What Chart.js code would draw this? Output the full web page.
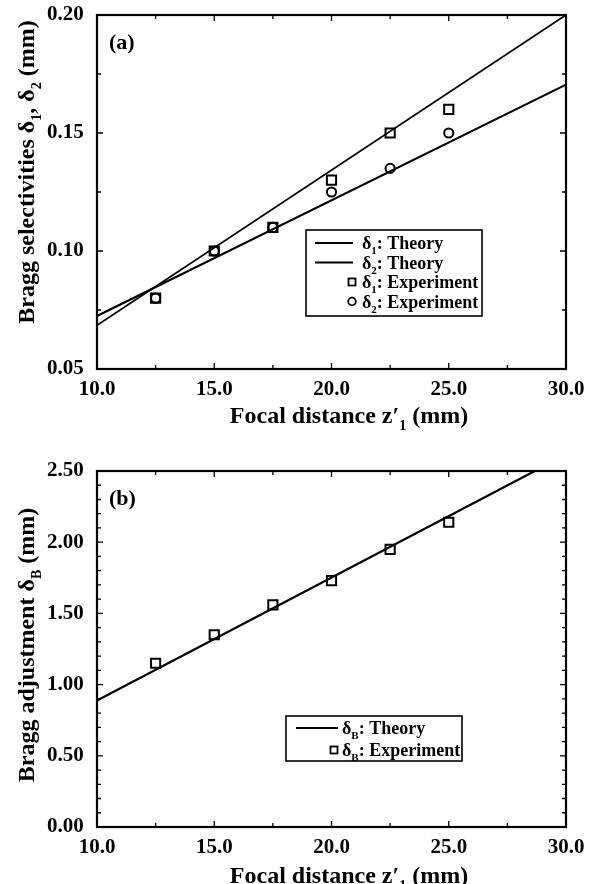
<!DOCTYPE html>
<html>
<head>
<meta charset="utf-8">
<script src="https://cdn.jsdelivr.net/npm/chart.js@4.4.1/dist/chart.umd.min.js"></script>
<style>
html, body { margin: 0; padding: 0; background: #fff; }
canvas { position: absolute; left: 0; }
#chartA { top: 0; }
#chartB { top: 440px; }
</style>
</head>
<body>
<canvas id="chartA" width="597" height="440"></canvas>
<canvas id="chartB" width="597" height="444"></canvas>
<script>
// Focal distance z'1 (mm) of the measured points
const focalDistances = [12.5, 15.0, 17.5, 20.0, 22.5, 25.0];

// (a) Bragg selectivities
const delta1Experiment = [0.080, 0.100, 0.110, 0.130, 0.150, 0.160];
const delta2Experiment = [0.080, 0.100, 0.110, 0.125, 0.135, 0.150];
const theoryFocal = [10.0, 30.0];
const delta1Theory = [0.0685, 0.200];
const delta2Theory = [0.0725, 0.1705];

// (b) Bragg adjustment
const deltaBExperiment = [1.15, 1.35, 1.56, 1.73, 1.95, 2.14];
const deltaBTheoryFocal = [10.0, 28.67];
const deltaBTheory = [0.888, 2.50];

// tick labels
const xTicks = [10.0, 15.0, 20.0, 25.0, 30.0];
const yTicksA = [0.05, 0.10, 0.15, 0.20];
const yTicksB = [0.00, 0.50, 1.00, 1.50, 2.00, 2.50];

const SERIF = "'Liberation Serif', 'Times New Roman', Times, serif";
const WEIGHT = 'bold ';

function points(xs, ys) {
    return xs.map((x, i) => ({ x: x, y: ys[i] }));
}

// draw text made of [text, isSubscript] parts
function setFont(ctx, size, sub) {
    ctx.font = WEIGHT + (sub ? Math.round(size * 0.6) : size) + 'px ' + SERIF;
}

function richWidth(ctx, parts, size) {
    let w = 0;
    parts.forEach(p => {
        setFont(ctx, size, p[1]);
        w += ctx.measureText(p[0]).width;
    });
    return w;
}

function drawRich(ctx, parts, x, y, size, align) {
    const total = richWidth(ctx, parts, size);
    let cx = align === 'center' ? x - total / 2 : x;
    ctx.textAlign = 'left';
    ctx.textBaseline = 'alphabetic';
    ctx.fillStyle = '#000';
    parts.forEach(p => {
        const sub = p[1];
        setFont(ctx, size, sub);
        ctx.fillText(p[0], cx, y + (sub ? size * 0.28 : 0));
        cx += ctx.measureText(p[0]).width;
    });
}

// frame, inward ticks, titles, panel label and legend
const decorations = {
    id: 'decorations',
    afterDraw(chart, args, opts) {
        const ctx = chart.ctx;
        const area = chart.chartArea;
        const xs = chart.scales.x;
        const ys = chart.scales.y;
        ctx.save();
        ctx.strokeStyle = '#000';

        // ticks
        ctx.lineWidth = 1.3;
        const tick = (v, len, isX) => {
            ctx.beginPath();
            if (isX) {
                const p = xs.getPixelForValue(v);
                ctx.moveTo(p, area.bottom); ctx.lineTo(p, area.bottom - len);
                ctx.moveTo(p, area.top); ctx.lineTo(p, area.top + len);
            } else {
                const p = ys.getPixelForValue(v);
                ctx.moveTo(area.left, p); ctx.lineTo(area.left + len, p);
                ctx.moveTo(area.right, p); ctx.lineTo(area.right - len, p);
            }
            ctx.stroke();
        };
        for (let v = xs.min; v <= xs.max + 1e-9; v += opts.xMinor) {
            const major = Math.abs(v / opts.xMajor - Math.round(v / opts.xMajor)) < 1e-6;
            tick(v, major ? 6 : 4, true);
        }
        for (let v = ys.min; v <= ys.max + 1e-9; v += opts.yMinor) {
            const major = Math.abs(v / opts.yMajor - Math.round(v / opts.yMajor)) < 1e-6;
            tick(v, major ? 6 : 4, false);
        }

        // frame
        ctx.lineWidth = 2.2;
        ctx.strokeRect(area.left, area.top, area.right - area.left, area.bottom - area.top);

        // x title
        drawRich(ctx, opts.xTitle, opts.xTitleX, opts.xTitleY, 24, 'center');

        // y title
        ctx.save();
        ctx.translate(opts.yTitleX, opts.yTitleY);
        ctx.rotate(-Math.PI / 2);
        drawRich(ctx, opts.yTitle, 0, 0, 24, 'center');
        ctx.restore();

        // panel label
        setFont(ctx, 22, false);
        ctx.textAlign = 'left';
        ctx.textBaseline = 'alphabetic';
        ctx.fillText(opts.panel, area.left + 12, area.top + 34);

        // legend
        const lg = opts.legend;
        ctx.lineWidth = 1.6;
        ctx.strokeRect(lg.x, lg.y, lg.w, lg.h);
        lg.items.forEach((item, i) => {
            const cy = lg.y + lg.rowStart + i * lg.rowGap;
            ctx.strokeStyle = '#000';
            if (item.type === 'line') {
                ctx.lineWidth = item.width;
                ctx.beginPath();
                ctx.moveTo(lg.x + lg.lineFrom, cy);
                ctx.lineTo(lg.x + lg.lineTo, cy);
                ctx.stroke();
            } else if (item.type === 'rect') {
                ctx.lineWidth = 1.8;
                ctx.strokeRect(lg.x + lg.markX - 3.5, cy - 3.5, 7, 7);
            } else {
                ctx.lineWidth = 1.8;
                ctx.beginPath();
                ctx.arc(lg.x + lg.markX, cy, 3.8, 0, Math.PI * 2);
                ctx.stroke();
            }
            drawRich(ctx, item.label, lg.x + lg.textX, cy + 6, 18, 'left');
        });
        ctx.restore();
    }
};

function axisOptions(min, max, step, digits, pad, extra) {
    return Object.assign({
        type: 'linear',
        min: min,
        max: max,
        grid: { display: false, drawTicks: false },
        border: { display: false },
        ticks: {
            stepSize: step,
            padding: pad,
            color: '#000',
            font: { family: SERIF, size: 21, weight: 'bold' },
            callback: v => Number(v).toFixed(digits)
        }
    }, extra);
}

function makeChart(id, datasets, yMin, yMax, yStep, yDigits, yMinor, pad, xHeight, deco) {
    return new Chart(document.getElementById(id), {
        type: 'scatter',
        data: { datasets: datasets },
        options: {
            responsive: false,
            animation: false,
            devicePixelRatio: 1,
            layout: { padding: pad },
            plugins: {
                legend: { display: false },
                tooltip: { enabled: false },
                decorations: Object.assign({ xMajor: 5, xMinor: 2.5, yMajor: yStep, yMinor: yMinor }, deco)
            },
            scales: {
                x: axisOptions(10, 30, 5, 1, 8, { afterFit: s => { s.height = xHeight; } }),
                y: axisOptions(yMin, yMax, yStep, yDigits, 0, {
                    afterFit: s => { s.width = 50; },
                    ticks: Object.assign(axisOptions(0, 0, yStep, yDigits, 0, {}).ticks, { crossAlign: 'far' })
                })
            }
        },
        plugins: [decorations]
    });
}

const lineSet = (xs, ys, w) => ({
    data: points(xs, ys), showLine: true, pointRadius: 0,
    borderColor: '#000', borderWidth: w, fill: false
});
const markSet = (ys, style, r) => ({
    data: points(focalDistances, ys), showLine: false, pointStyle: style,
    pointRadius: r, pointBorderWidth: 2, pointBorderColor: '#000',
    pointBackgroundColor: 'rgba(0,0,0,0)'
});

makeChart('chartA', [
    lineSet(theoryFocal, delta1Theory, 1.8),
    lineSet(theoryFocal, delta2Theory, 2.2),
    markSet(delta1Experiment, 'rect', 6.5),
    markSet(delta2Experiment, 'circle', 4.6)
], 0.05, 0.20, 0.05, 2, 0.025, { top: 15, right: 31, left: 47, bottom: 0 }, 71, {
    panel: '(a)',
    xTitle: [['Focal distance z′'], ['1', 1], [' (mm)']],
    xTitleX: 349, xTitleY: 423,
    yTitle: [['Bragg selectivities δ'], ['1', 1], [', δ'], ['2', 1], [' (mm)']],
    yTitleX: 34, yTitleY: 172,
    legend: {
        x: 306, y: 230, w: 176, h: 86, rowStart: 13, rowGap: 19.5,
        lineFrom: 9, lineTo: 47, markX: 46, textX: 56,
        items: [
            { type: 'line', width: 2.2, label: [['δ'], ['1', 1], [': Theory']] },
            { type: 'line', width: 1.8, label: [['δ'], ['2', 1], [': Theory']] },
            { type: 'rect', label: [['δ'], ['1', 1], [': Experiment']] },
            { type: 'circle', label: [['δ'], ['2', 1], [': Experiment']] }
        ]
    }
});

makeChart('chartB', [
    lineSet(deltaBTheoryFocal, deltaBTheory, 2.2),
    markSet(deltaBExperiment, 'rect', 6.5)
], 0.00, 2.50, 0.50, 2, 0.10, { top: 31, right: 31, left: 47, bottom: 0 }, 57, {
    panel: '(b)',
    xTitle: [['Focal distance z′'], ['1', 1], [' (mm)']],
    xTitleX: 349, xTitleY: 443,
    yTitle: [['Bragg adjustment δ'], ['B', 1], [' (mm)']],
    yTitleX: 34, yTitleY: 205,
    legend: {
        x: 286, y: 276, w: 176, h: 45, rowStart: 12, rowGap: 22,
        lineFrom: 10, lineTo: 52, markX: 48, textX: 56,
        items: [
            { type: 'line', width: 2.2, label: [['δ'], ['B', 1], [': Theory']] },
            { type: 'rect', label: [['δ'], ['B', 1], [': Experiment']] }
        ]
    }
});
</script>
</body>
</html>
